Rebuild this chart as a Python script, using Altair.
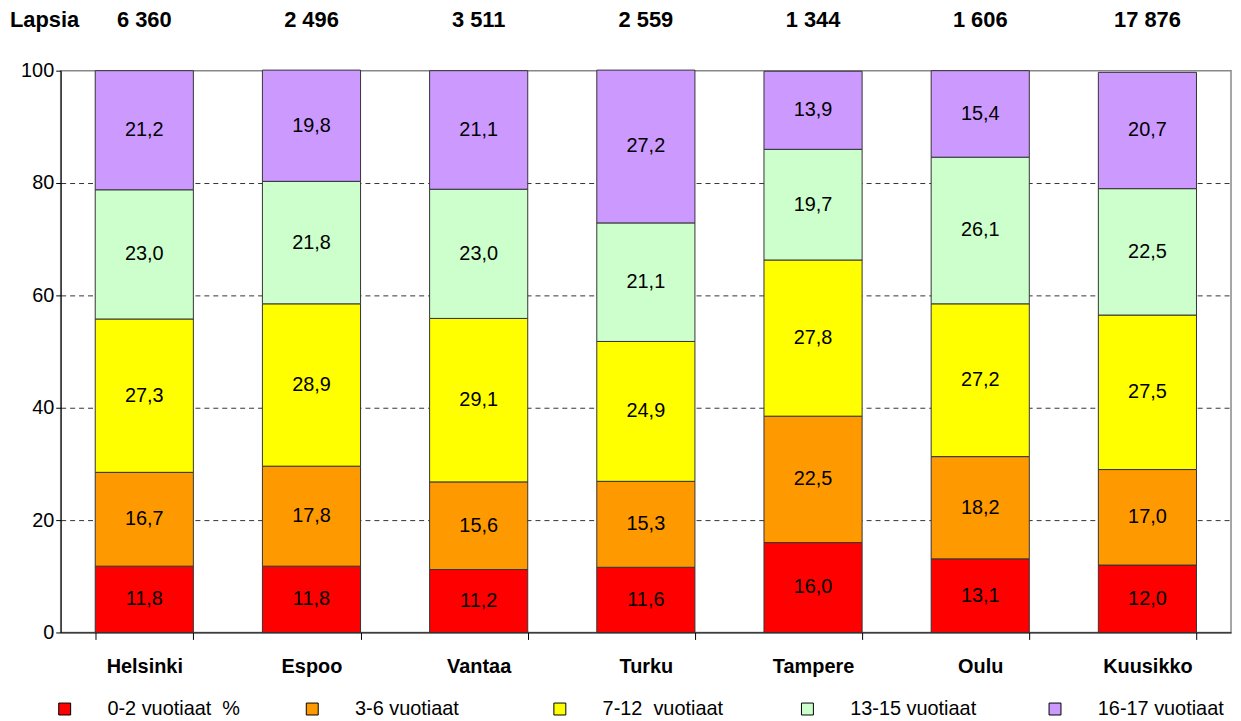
import altair as alt
import pandas as pd

cities = ["Helsinki", "Espoo", "Vantaa", "Turku", "Tampere", "Oulu", "Kuusikko"]
children = ["6 360", "2 496", "3 511", "2 559", "1 344", "1 606", "17 876"]
groups = ["0-2 vuotiaat\u00a0\u00a0%", "3-6 vuotiaat", "7-12\u00a0\u00a0vuotiaat",
          "13-15 vuotiaat", "16-17 vuotiaat"]
colors = ["#FF0000", "#FF9900", "#FFFF00", "#CCFFCC", "#CC99FF"]

v_0_2 = [11.8, 11.8, 11.2, 11.6, 16.0, 13.1, 12.0]
v_3_6 = [16.7, 17.8, 15.6, 15.3, 22.5, 18.2, 17.0]
v_7_12 = [27.3, 28.9, 29.1, 24.9, 27.8, 27.2, 27.5]
v_13_15 = [23.0, 21.8, 23.0, 21.1, 19.7, 26.1, 22.5]
v_16_17 = [21.2, 19.8, 21.1, 27.2, 13.9, 15.4, 20.7]
series = [v_0_2, v_3_6, v_7_12, v_13_15, v_16_17]

rows = []
for gi, (g, vals) in enumerate(zip(groups, series)):
    for c, v in zip(cities, vals):
        rows.append({"city": c, "group": g, "order": gi, "value": v,
                     "label": f"{v:.1f}".replace(".", ",")})
df = pd.DataFrame(rows)
counts = pd.DataFrame({"city": cities, "count": children})
title_df = pd.DataFrame({"t": ["Lapsia"]})

FONT = "Liberation Sans"

x_enc = alt.X(
    "city:N", sort=cities,
    scale=alt.Scale(paddingInner=0.413, paddingOuter=0.2065),
    axis=alt.Axis(title=None, labelAngle=0, labelFont=FONT, labelFontSize=20,
                  labelFontWeight="bold", labelColor="black", labelPadding=17,
                  tickBand="extent", tickSize=7, tickColor="black",
                  domainColor="black", domainWidth=1, grid=False),
)
y_axis = alt.Axis(title=None, values=[0, 20, 40, 60, 80, 100], labelFont=FONT,
                  labelFontSize=20, labelColor="black", labelPadding=2,
                  tickSize=5, tickColor="black", domainColor="black",
                  grid=True, gridColor="#333333", gridDash=[5, 4], gridWidth=1,
                  gridOpacity=alt.condition("datum.value == 100 || datum.value == 0",
                                            alt.value(0), alt.value(1)))
y_scale = alt.Scale(domain=[0, 100], nice=False)

bars = alt.Chart(df).mark_bar(stroke="#333333", strokeWidth=1).encode(
    x=x_enc,
    y=alt.Y("value:Q", stack="zero", scale=y_scale, axis=y_axis),
    color=alt.Color(
        "group:N", sort=groups,
        scale=alt.Scale(domain=groups, range=colors),
        legend=alt.Legend(
            title=None, orient="none", legendX=-6, legendY=632,
            direction="horizontal", columns=5, gridAlign="all",
            columnPadding=62, symbolType="square", symbolSize=144,
            symbolStrokeColor="black", symbolStrokeWidth=1, symbolOpacity=1,
            labelFont=FONT, labelFontSize=20, labelColor="black",
            labelOffset=33, labelLimit=300, padding=0,
        ),
    ),
    order=alt.Order("order:Q"),
)

labels = alt.Chart(df).transform_stack(
    stack="value", groupby=["city"], sort=[alt.SortField("order")], as_=["y0", "y1"]
).transform_calculate(mid="(datum.y0 + datum.y1) / 2").mark_text(
    font=FONT, fontSize=20, color="black", baseline="middle", align="center"
).encode(
    x=x_enc,
    y=alt.Y("mid:Q", scale=y_scale, axis=y_axis),
    text="label:N",
)

count_text = alt.Chart(counts).mark_text(
    font=FONT, fontSize=22, fontWeight="bold", color="black", baseline="middle"
).encode(x=x_enc, y=alt.value(-51), text="count:N")

lapsia = alt.Chart(title_df).mark_text(
    font=FONT, fontSize=22, fontWeight="bold", color="black",
    baseline="middle", align="left"
).encode(x=alt.value(-51), y=alt.value(-51), text="t:N")

chart = alt.layer(bars, labels, count_text, lapsia).properties(
    width=1177, height=565,
    autosize=alt.AutoSizeParams(type="none"),
    padding={"left": 53, "top": 61, "right": 2, "bottom": 85},
).configure_view(stroke="#888888", strokeWidth=1.5)

chart.save("out.html", embed_options={"renderer": "svg", "actions": False})
